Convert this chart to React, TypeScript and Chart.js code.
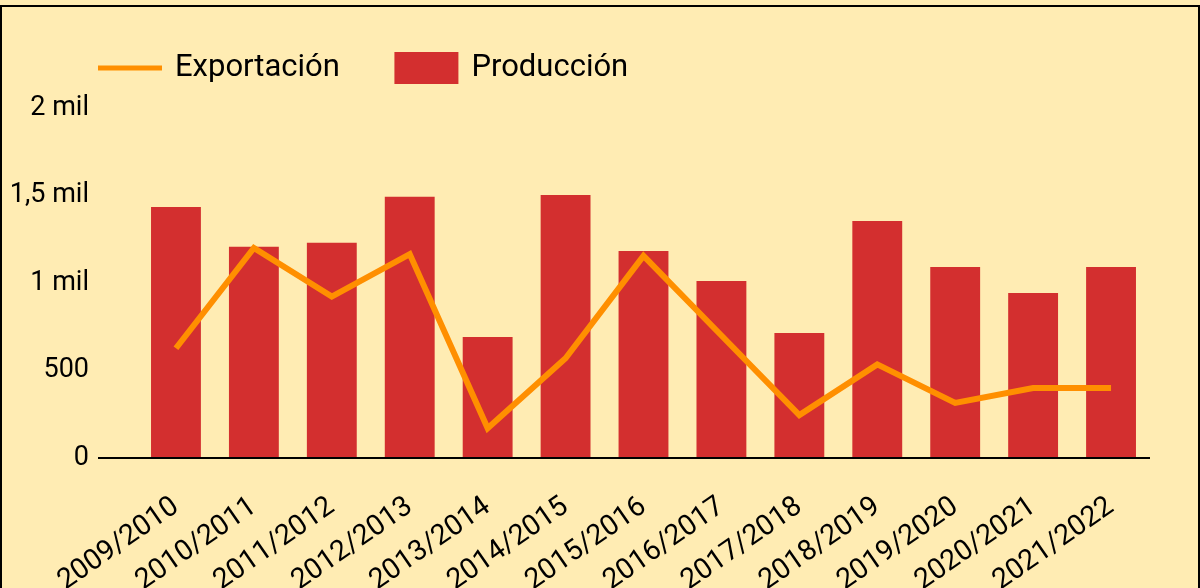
import React, { useEffect, useRef } from "react";
import { Chart, registerables } from "chart.js";

Chart.register(...registerables);

const categories = [
  "2009/2010", "2010/2011", "2011/2012", "2012/2013", "2013/2014", "2014/2015", "2015/2016",
  "2016/2017", "2017/2018", "2018/2019", "2019/2020", "2020/2021", "2021/2022",
];
const produccion = [1434, 1207, 1230, 1493, 691, 1503, 1183, 1011, 714, 1354, 1091, 943, 1091];
const exportacion = [627, 1200, 922, 1165, 170, 570, 1155, 700, 245, 535, 315, 400, 400];
const yTickValues = [0, 500, 1000, 1500, 2000];
const yTickLabels = ["0", "500", "1 mil", "1,5 mil", "2 mil"];

const BG = "#FFECB3";
const RED = "#D32F2F";
const ORANGE = "#FF8F00";
const FONT = "Roboto";

const LEGEND_PADDING = 57;
const LEGEND_FONT = 31;

const legendPlacement = {
  id: "legendPlacement",
  afterLayout(c: any) {
    if (c.legend) {
      c.legend.left = 100.5 - LEGEND_PADDING;
      c.legend.top = 68 - LEGEND_PADDING - LEGEND_FONT / 2;
    }
  },
};

export default function App() {
  const ref = useRef<HTMLCanvasElement | null>(null);

  useEffect(() => {
    if (!ref.current) return;
    const chart = new Chart(ref.current, {
      type: "bar",
      data: {
        labels: categories,
        datasets: [
          {
            type: "line",
            label: "Exportación",
            data: exportacion,
            borderColor: ORANGE,
            backgroundColor: ORANGE,
            borderWidth: 6,
            pointRadius: 0,
            pointHoverRadius: 0,
            tension: 0,
            borderJoinStyle: "miter",
            borderCapStyle: "butt",
          } as any,
          {
            type: "bar",
            label: "Producción",
            data: produccion,
            backgroundColor: RED,
            borderWidth: 0,
            categoryPercentage: 0.8,
            barPercentage: 0.8,
          } as any,
        ],
      },
      plugins: [legendPlacement],
      options: {
        responsive: false,
        animation: false,
        devicePixelRatio: 1,
        layout: { padding: { left: 0, top: 0, right: 0, bottom: 0 } },
        plugins: {
          tooltip: { enabled: false },
          legend: {
            position: "top",
            align: "start",
            labels: {
              usePointStyle: true,
              pointStyleWidth: 59,
              boxHeight: 27,
              padding: LEGEND_PADDING,
              color: "#000",
              font: { family: FONT, size: LEGEND_FONT },
              generateLabels: (c: any) =>
                c.data.datasets.map((ds: any, i: number) => ({
                  text: ds.label,
                  fillStyle: ds.type === "line" ? ds.borderColor : ds.backgroundColor,
                  strokeStyle: ds.type === "line" ? ds.borderColor : ds.backgroundColor,
                  lineWidth: 5,
                  lineCap: "square",
                  lineJoin: "miter",
                  pointStyle: ds.type === "line" ? "line" : "rect",
                  fontColor: "#000",
                  hidden: false,
                  datasetIndex: i,
                })),
            },
          },
        },
        scales: {
          x: {
            border: { display: false },
            grid: { display: false, drawTicks: false },
            ticks: {
              color: "#000",
              font: { family: FONT, size: 28.5 },
              minRotation: 35,
              maxRotation: 35,
              autoSkip: false,
              padding: 32,
            },
            afterFit: (s: any) => {
              s.height = 130;
              s.paddingLeft = 0;
              s.paddingRight = 50;
            },
          },
          y: {
            min: 0,
            max: 2000,
            border: { display: false },
            grid: {
              color: (ctx: any) => (ctx.tick && ctx.tick.value === 0 ? "#000" : "rgba(0,0,0,0)"),
              lineWidth: 2,
              drawTicks: true,
              tickLength: 39,
            },
            ticks: {
              stepSize: 500,
              padding: 9,
              color: "#000",
              font: { family: FONT, size: 27 },
              callback: (v: any) => {
                const idx = yTickValues.indexOf(Number(v));
                return idx >= 0 ? yTickLabels[idx] : "";
              },
            },
            afterFit: (s: any) => {
              s.width = 137;
              s.paddingTop = 108;
              s.paddingBottom = 0;
            },
          },
        },
      } as any,
    });
    return () => chart.destroy();
  }, []);

  return (
    <div style={{ position: "fixed", left: 0, top: 0, width: 1200, height: 588, background: BG, overflow: "hidden" }}>
      <div
        style={{
          position: "absolute",
          left: 0,
          top: 5,
          width: 1200,
          height: 640,
          border: "2px solid #000",
          boxSizing: "border-box",
        }}
      />
      <canvas ref={ref} width={1200} height={588} style={{ position: "absolute", left: 0, top: 0 }} />
    </div>
  );
}
